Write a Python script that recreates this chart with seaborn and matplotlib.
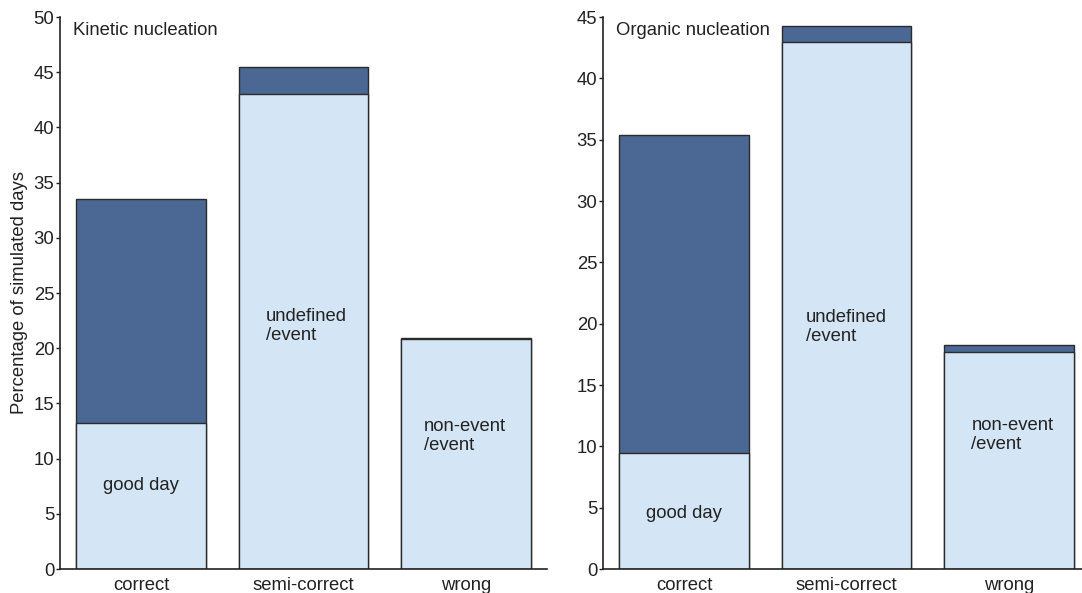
import matplotlib
matplotlib.use("Agg")
import matplotlib.pyplot as plt
import seaborn as sns
import pandas as pd

categories = ["correct", "semi-correct", "wrong"]

# Kinetic nucleation: lower (light) part and total height per category
kinetic_lower = [13.25, 43.0, 20.8]
kinetic_total = [33.5, 45.5, 20.9]

# Organic nucleation
organic_lower = [9.45, 43.0, 17.7]
organic_total = [35.4, 44.25, 18.3]

panel_titles = ["Kinetic nucleation", "Organic nucleation"]
ylabel_text = "Percentage of simulated days"
bar_labels = ["good day", "undefined\n/event", "non-event\n/event"]

DARK = "#4a6893"
LIGHT = "#d4e6f5"
EDGE = "#2b2b2b"
TXT = "#222222"
FS = 13.3

sns.set_theme(style="white")
plt.rcParams["font.family"] = ["Liberation Sans", "DejaVu Sans"]

fig = plt.figure(figsize=(10.82, 5.93), dpi=100)
W, H = 1082, 593
ax1 = fig.add_axes([60 / W, 1 - 569 / H, 487 / W, 552 / H])
ax2 = fig.add_axes([603 / W, 1 - 569 / H, 487 / W, 552 / H])

title_y = {panel_titles[0]: 48.8, panel_titles[1]: 43.9}


def draw_panel(ax, lower, total, title, ymax, yticks, label_pos):
    df_tot = pd.DataFrame({"cat": categories, "val": total})
    df_low = pd.DataFrame({"cat": categories, "val": lower})
    # full-height bar in the dark shade, lower share overlaid in the light shade
    sns.barplot(data=df_tot, x="cat", y="val", color=DARK, saturation=1,
                width=0.8, edgecolor=EDGE, linewidth=1.0, ax=ax)
    sns.barplot(data=df_low, x="cat", y="val", color=LIGHT, saturation=1,
                width=0.8, edgecolor=EDGE, linewidth=1.0, ax=ax)
    ax.set_xlim(-0.5, 2.5)
    ax.set_ylim(0, ymax)
    ax.set_yticks(yticks)
    ax.set_xlabel("")
    ax.set_ylabel("")
    for s in ["top", "right"]:
        ax.spines[s].set_visible(False)
    for s in ["left", "bottom"]:
        ax.spines[s].set_color("#222222")
        ax.spines[s].set_linewidth(1.2)
    ax.tick_params(axis="y", left=True, direction="out", length=3, width=1,
                   color="#222222", labelsize=FS, labelcolor=TXT, pad=1)
    ax.tick_params(axis="x", bottom=False, labelsize=FS, labelcolor=TXT, pad=0)
    ax.text(-0.42, title_y[title], title, ha="left", va="center",
            fontsize=FS, color=TXT)
    for (x, y, ha), lab in zip(label_pos, bar_labels):
        ax.text(x, y, lab, ha=ha, va="center", fontsize=FS, color=TXT,
                linespacing=1.15)


draw_panel(ax1, kinetic_lower, kinetic_total, panel_titles[0], 50,
           range(0, 51, 5),
           [(0, 7.6, "center"), (0.77, 22.0, "left"), (1.74, 12.05, "left")])
draw_panel(ax2, organic_lower, organic_total, panel_titles[1], 45,
           range(0, 46, 5),
           [(0, 4.5, "center"), (0.75, 19.7, "left"), (1.77, 10.9, "left")])

ax1.set_ylabel(ylabel_text, fontsize=FS, color=TXT, labelpad=4)

fig.savefig("out.png", dpi=100)
